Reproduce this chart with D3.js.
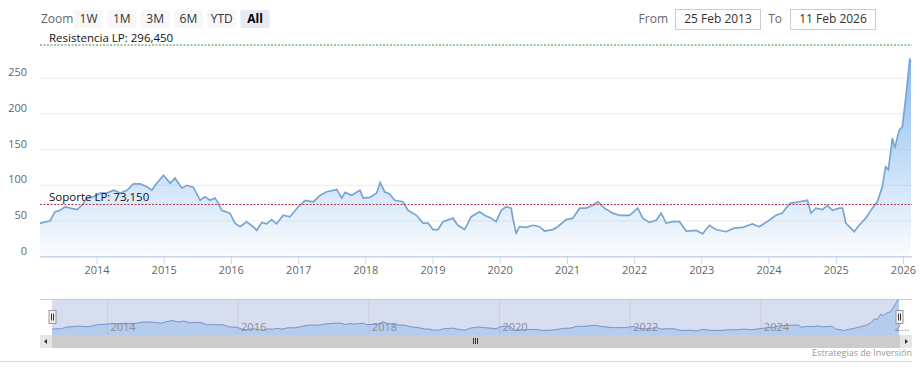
<!DOCTYPE html>
<html>
<head>
<meta charset="utf-8">
<script src="https://cdn.jsdelivr.net/npm/d3@7"></script>
<style>
  body { margin: 0; background: #fff; }
  svg { display: block; font-family: "Open Sans", sans-serif; }
</style>
</head>
<body>
<script>

// Price series (date, value)
const dates = [
  "2013-02-25","2013-04-20","2013-05-18","2013-06-15","2013-07-12","2013-08-08","2013-09-14","2013-10-11",
  "2013-11-07","2013-12-13","2014-01-18","2014-02-24","2014-04-01","2014-05-07","2014-06-13","2014-07-18",
  "2014-08-24","2014-09-29","2014-10-26","2014-11-13","2014-12-28","2015-02-02","2015-03-01","2015-04-07",
  "2015-05-04","2015-06-09","2015-07-15","2015-08-11","2015-09-07","2015-10-04","2015-10-22","2015-11-09",
  "2015-12-24","2016-01-21","2016-02-17","2016-03-24","2016-04-29","2016-05-18","2016-06-14","2016-07-11",
  "2016-08-07","2016-09-03","2016-10-09","2016-11-14","2016-12-30","2017-02-05","2017-03-22","2017-04-28",
  "2017-06-03","2017-07-27","2017-08-23","2017-09-10","2017-10-16","2017-11-30","2017-12-18","2018-01-23",
  "2018-02-28","2018-03-20","2018-04-13","2018-05-10","2018-06-07","2018-07-22","2018-08-18","2018-10-03",
  "2018-11-08","2018-12-05","2019-01-01","2019-01-28","2019-02-24","2019-04-19","2019-05-16","2019-06-22",
  "2019-07-28","2019-09-11","2019-10-08","2019-11-13","2019-12-10","2020-01-07","2020-02-03","2020-03-01",
  "2020-03-10","2020-03-28","2020-04-15","2020-05-21","2020-06-27","2020-08-02","2020-08-29","2020-10-13",
  "2020-11-09","2020-12-25","2021-01-30","2021-03-08","2021-04-13","2021-05-19","2021-06-15","2021-07-21",
  "2021-09-04","2021-10-11","2021-12-04","2022-01-18","2022-02-14","2022-03-22","2022-04-28","2022-05-25",
  "2022-06-21","2022-07-27","2022-09-02","2022-10-08","2022-12-01","2023-01-05","2023-02-11","2023-03-18",
  "2023-05-12","2023-06-26","2023-08-10","2023-10-03","2023-11-09","2024-01-02","2024-02-08","2024-03-14",
  "2024-04-02","2024-04-29","2024-06-13","2024-07-28","2024-08-16","2024-09-12","2024-10-18","2024-11-14",
  "2024-12-11","2025-01-17","2025-02-04","2025-02-22","2025-04-08","2025-05-05","2025-06-10","2025-07-16",
  "2025-08-12","2025-09-08","2025-09-26","2025-10-11","2025-11-02","2025-11-15","2025-12-08","2025-12-26",
  "2026-01-17","2026-02-04","2026-02-11"
];
const prices = [
  47, 50, 63, 65, 70, 68, 66, 72,
  82, 84, 89, 89, 93, 89, 93, 102,
  102, 98, 93, 100, 114, 103, 110, 96,
  100, 97, 79, 84, 79, 82, 75, 65,
  61, 47, 42, 49, 42, 37, 48, 46,
  52, 46, 58, 56, 70, 79, 77, 86,
  91, 94, 82, 90, 86, 93, 82, 83,
  89, 104, 91, 88, 79, 77, 65, 58,
  47, 47, 38, 38, 49, 54, 44, 38,
  56, 63, 58, 54, 49, 65, 70, 68,
  54, 33, 42, 41, 44, 42, 36, 38,
  42, 52, 54, 68, 68, 72, 77, 68,
  61, 58, 58, 68, 54, 48, 51, 61,
  47, 49, 49, 36, 37, 32, 44, 38,
  35, 40, 41, 46, 42, 51, 58, 61,
  68, 75, 77, 79, 61, 68, 66, 72,
  65, 68, 68, 47, 35, 44, 54, 68,
  77, 98, 126, 122, 166, 152, 177, 182,
  231, 276, 273
];

// Reference levels
const levelNames = ["Resistencia LP: 296,450", "Soporte LP: 73,150"];
const levelValues = [296.45, 73.15];
const levelColors = ["#3f8f3f", "#b0304a"];

// Axis ticks
const yTicks = [0, 50, 100, 150, 200, 250];
const xTickYears = [2014, 2015, 2016, 2017, 2018, 2019, 2020, 2021, 2022, 2023, 2024, 2025, 2026];
const navTickYears = [2014, 2016, 2018, 2020, 2022, 2024, 2026];

// Range selector texts
const zoomButtons = ["1W", "1M", "3M", "6M", "YTD", "All"];
const fromText = "25 Feb 2013";
const toText = "11 Feb 2026";
const creditText = "Estrategias de Inversión";

const parse = d3.timeParse("%Y-%m-%d");
const series = dates.map((d, i) => ({date: parse(d), value: prices[i]}));

const width = 920, height = 374;

const svg = d3.select("body").append("svg")
    .attr("width", width)
    .attr("height", height);

const defs = svg.append("defs");
const grad = defs.append("linearGradient")
    .attr("id", "areaGrad")
    .attr("gradientUnits", "userSpaceOnUse")
    .attr("x1", 0).attr("x2", 0).attr("y1", 50).attr("y2", 257);
grad.append("stop").attr("offset", 0).attr("stop-color", "#7cb5ec").attr("stop-opacity", 0.95);
grad.append("stop").attr("offset", 1).attr("stop-color", "#7cb5ec").attr("stop-opacity", 0.03);

// Main chart scales
const xScale = d3.scaleTime()
    .domain([parse("2013-02-25"), parse("2026-02-11")])
    .range([40, 911]);
const yScale = d3.scaleLinear().domain([0, 250]).range([256.7, 78.2]);

// Horizontal grid lines
svg.append("g").selectAll("line")
    .data(yTicks)
    .join("line")
    .attr("x1", 40).attr("x2", 912)
    .attr("y1", d => yScale(d)).attr("y2", d => yScale(d))
    .attr("stroke", d => d === 0 ? "#ccd6eb" : "#ececec")
    .attr("stroke-width", d => d === 0 ? 1.5 : 1);

// Y labels
svg.append("g").selectAll("text")
    .data(yTicks)
    .join("text")
    .attr("x", 27).attr("y", d => yScale(d) - 2)
    .attr("text-anchor", "end")
    .attr("font-size", 11)
    .attr("fill", "#666")
    .text(d => d);

// X axis ticks and labels
const xAxis = svg.append("g");
xAxis.selectAll("line")
    .data(xTickYears)
    .join("line")
    .attr("x1", d => xScale(new Date(d, 0, 1))).attr("x2", d => xScale(new Date(d, 0, 1)))
    .attr("y1", 257).attr("y2", 264)
    .attr("stroke", "#ccd6eb");
xAxis.selectAll("text")
    .data(xTickYears)
    .join("text")
    .attr("x", d => xScale(new Date(d, 0, 1)))
    .attr("y", 274)
    .attr("text-anchor", "middle")
    .attr("font-size", 11)
    .attr("fill", "#666")
    .text(d => d);

// Area + line
const area = d3.area()
    .x(d => xScale(d.date))
    .y0(yScale(0))
    .y1(d => yScale(d.value));
const line = d3.line()
    .x(d => xScale(d.date))
    .y(d => yScale(d.value));

svg.append("path").datum(series)
    .attr("d", area)
    .attr("fill", "url(#areaGrad)");
svg.append("path").datum(series)
    .attr("d", line)
    .attr("fill", "none")
    .attr("stroke", "#7aa5d3")
    .attr("stroke-width", 1.7);

// Support / resistance lines with labels
const levels = svg.append("g");
levels.selectAll("line")
    .data(levelValues)
    .join("line")
    .attr("x1", 40).attr("x2", 912)
    .attr("y1", d => yScale(d)).attr("y2", d => yScale(d))
    .attr("stroke", (d, i) => levelColors[i])
    .attr("stroke-dasharray", "2,1.5")
    .attr("stroke-width", 1);
levels.selectAll("text")
    .data(levelValues)
    .join("text")
    .attr("x", 49)
    .attr("y", d => yScale(d) - 3)
    .attr("font-size", 11.5)
    .attr("fill", "#111")
    .text((d, i) => levelNames[i]);

// Range selector
const rs = svg.append("g").attr("font-size", 12);
rs.append("text").attr("x", 41).attr("y", 23).attr("fill", "#666").text("Zoom");
const btn = rs.selectAll("g.btn")
    .data(zoomButtons)
    .join("g")
    .attr("transform", (d, i) => `translate(${74 + i * 33.3}, 10)`);
btn.append("rect")
    .attr("width", 29).attr("height", 18).attr("rx", 2)
    .attr("fill", d => d === "All" ? "#e6ebf5" : "#f7f7f7");
btn.append("text")
    .attr("x", 14.5).attr("y", 13)
    .attr("text-anchor", "middle")
    .attr("fill", d => d === "All" ? "#000" : "#333")
    .attr("font-weight", d => d === "All" ? "bold" : "normal")
    .text(d => d);

rs.append("text").attr("x", 668).attr("y", 23).attr("text-anchor", "end").attr("fill", "#666").text("From");
rs.append("rect").attr("x", 675.5).attr("y", 9.5).attr("width", 85).attr("height", 20)
    .attr("fill", "#fff").attr("stroke", "#ccc");
rs.append("text").attr("x", 718).attr("y", 23).attr("text-anchor", "middle").attr("fill", "#333").text(fromText);
rs.append("text").attr("x", 782).attr("y", 23).attr("text-anchor", "end").attr("fill", "#666").text("To");
rs.append("rect").attr("x", 790.5).attr("y", 9.5).attr("width", 85).attr("height", 20)
    .attr("fill", "#fff").attr("stroke", "#ccc");
rs.append("text").attr("x", 833).attr("y", 23).attr("text-anchor", "middle").attr("fill", "#333").text(toText);

// Navigator
const navTop = 299, navBottom = 335;
const navX = d3.scaleTime()
    .domain([parse("2013-02-25"), parse("2026-02-11")])
    .range([52, 899]);
const navY = d3.scaleLinear().domain([0, 276]).range([navBottom, navTop + 1]);

const nav = svg.append("g");
nav.append("rect")
    .attr("x", 52).attr("y", navTop).attr("width", 847).attr("height", navBottom - navTop)
    .attr("fill", "#d6ddee");
nav.append("line")
    .attr("x1", 40).attr("x2", 912).attr("y1", navTop + 0.5).attr("y2", navTop + 0.5)
    .attr("stroke", "#cccccc");
nav.selectAll("line.grid")
    .data(navTickYears.filter(y => y < 2026))
    .join("line")
    .attr("x1", d => navX(new Date(d, 0, 1))).attr("x2", d => navX(new Date(d, 0, 1)))
    .attr("y1", navTop).attr("y2", navBottom)
    .attr("stroke", "#c8cedb");

const navArea = d3.area()
    .x(d => navX(d.date))
    .y0(navBottom)
    .y1(d => navY(d.value));
const navLine = d3.line()
    .x(d => navX(d.date))
    .y(d => navY(d.value));
nav.append("path").datum(series)
    .attr("d", navArea)
    .attr("fill", "#8fb8ea")
    .attr("fill-opacity", 0.45);
nav.append("path").datum(series)
    .attr("d", navLine)
    .attr("fill", "none")
    .attr("stroke", "#7593cc")
    .attr("stroke-width", 1);

// Navigator labels, the last one is cut to the space left
const navLabels = nav.selectAll("text")
    .data(navTickYears)
    .join("text")
    .attr("x", d => navX(new Date(d, 0, 1)) + 3)
    .attr("y", 331)
    .attr("font-size", 11)
    .attr("fill", "#8a8f99")
    .text(d => d);
navLabels.each(function(d) {
    const el = d3.select(this);
    const room = 912 - (navX(new Date(d, 0, 1)) + 3);
    if (this.getComputedTextLength() > room) {
        el.text(String(d)[0] + "…");
    }
});

// Navigator handles
const handles = [52, 899];
const hg = nav.selectAll("g.handle")
    .data(handles)
    .join("g")
    .attr("transform", d => `translate(${d - 3.5}, 310)`);
hg.append("rect")
    .attr("x", 0.5).attr("y", 0.5).attr("width", 7).attr("height", 13)
    .attr("fill", "#f2f2f2").attr("stroke", "#999");
hg.selectAll("line")
    .data([3, 5])
    .join("line")
    .attr("x1", d => d).attr("x2", d => d)
    .attr("y1", 3.5).attr("y2", 10.5)
    .attr("stroke", "#333");

// Scrollbar
const sb = svg.append("g");
sb.append("rect").attr("x", 40).attr("y", 335).attr("width", 872).attr("height", 13).attr("fill", "#cccccc");
sb.append("rect").attr("x", 40).attr("y", 335).attr("width", 12).attr("height", 13).attr("fill", "#e6e6e6");
sb.append("rect").attr("x", 900).attr("y", 335).attr("width", 12).attr("height", 13).attr("fill", "#e6e6e6");
sb.append("path").attr("d", "M47,339 L44,341.5 L47,344 Z").attr("fill", "#333");
sb.append("path").attr("d", "M905,339 L908,341.5 L905,344 Z").attr("fill", "#333");
sb.selectAll("line.grip")
    .data([-2, 0, 2])
    .join("line")
    .attr("x1", d => 475.5 + d).attr("x2", d => 475.5 + d)
    .attr("y1", 338).attr("y2", 344)
    .attr("stroke", "#333");

// Credits and bottom border
svg.append("text")
    .attr("x", 912).attr("y", 356)
    .attr("text-anchor", "end")
    .attr("font-size", 9)
    .attr("fill", "#999")
    .text(creditText);
svg.append("line")
    .attr("x1", 0).attr("x2", 912).attr("y1", 361.5).attr("y2", 361.5)
    .attr("stroke", "#d6d9e0");

</script>
</body>
</html>
